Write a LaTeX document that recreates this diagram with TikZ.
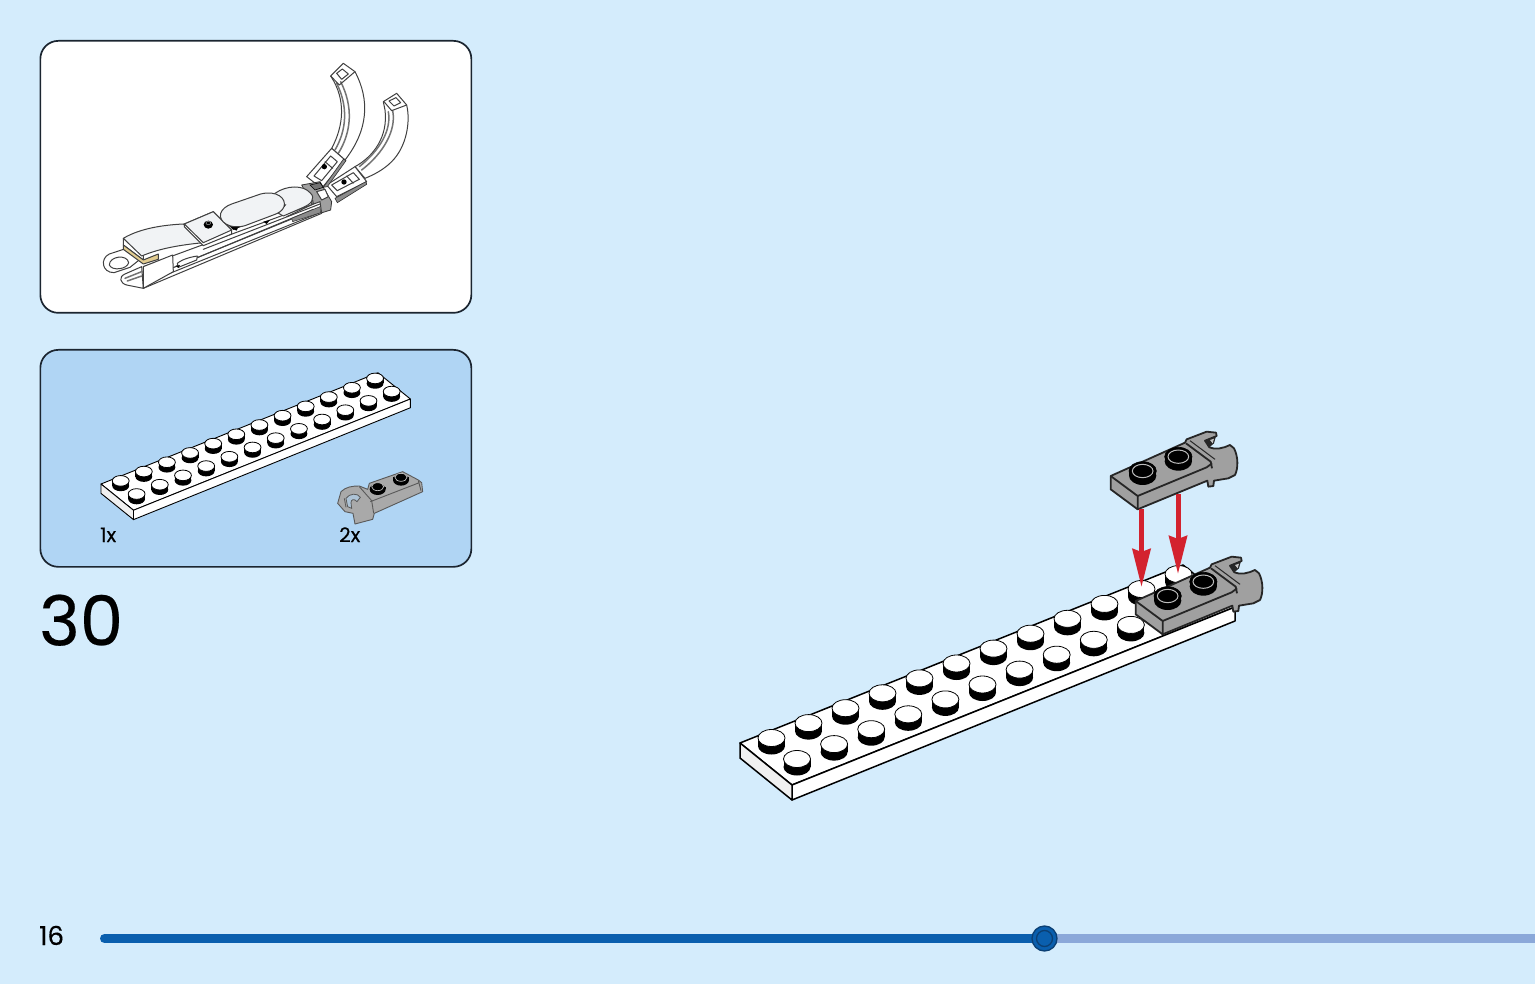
\documentclass[tikz,border=0pt]{standalone}
\usepackage{fontspec}
\setmainfont{Poppins}[FakeBold=0.35]
\usetikzlibrary{arrows.meta}
\definecolor{pagebg}{HTML}{D4ECFC}
\definecolor{partsbg}{HTML}{B0D5F4}
\definecolor{inkc}{HTML}{1B2530}
\definecolor{barblue}{HTML}{0A5FAE}
\definecolor{barpale}{HTML}{8BA8D9}
\definecolor{ringblue}{HTML}{0B3F73}
\definecolor{brick}{HTML}{A0A0A0}
\definecolor{brickpale}{HTML}{A9A9A9}
\definecolor{redarrow}{HTML}{D3222E}
\definecolor{tan}{HTML}{E2CC90}
\definecolor{tile}{HTML}{F1F3F5}
\tikzset{
  panel/.style={draw=inkc,line width=1.7pt,rounded corners=18pt,anchor=north west,inner sep=0pt},
  thinline/.style={draw=black!75,line width=1pt,line join=round,line cap=round},
  greyline/.style={draw=black!55,line width=1.5pt,line cap=round},
  redlink/.style={draw=redarrow,line width=5pt,-{Stealth[length=38pt,width=18pt,inset=3pt]}},
  label/.style={inner sep=0pt,anchor=base west,text=black},
}
% white stud: x, y, rx, ry, h
\newcommand{\wstud}[5]{%
  \fill[black] (#1,#2+#5) ellipse [x radius=#3,y radius=#4];
  \fill[black] (#1-#3,#2) rectangle (#1+#3,#2+#5);
  \path[fill=white,draw=black,line width=.8pt] (#1,#2) ellipse [x radius=#3,y radius=#4];
}
% grey-topped hollow stud: x, y
\newcommand{\gstud}[2]{%
  \fill[black] (#1,#2+14) ellipse [x radius=41,y radius=28];
  \fill[black] (#1-41,#2) rectangle (#1+41,#2+14);
  \path[fill=black,draw=black,line width=.6pt] (#1,#2) ellipse [x radius=41,y radius=28];
  \draw[brick!70!white,line width=1pt] (#1,#2) ellipse [x radius=31,y radius=20];
}
% white 2x12 plate; local origin = left corner: #1 line width, #2 last front stud
\newcommand{\whiteplate}[2]{%
  \path[fill=white,draw=black,line width=#1,line join=round] (0,0) -- (443,-178) -- (495,-136) -- (52,42) -- cycle;
  \path[fill=white,draw=black,line width=#1,line join=round] (52,42) -- (495,-136) -- (495,-122) -- (52,57) -- cycle;
  \path[fill=black!6,draw=black,line width=#1,line join=round] (0,0) -- (52,42) -- (52,57) -- (0,15) -- cycle;
  \foreach \k in {0,...,11} {\pgfmathsetmacro{\sx}{31.5+37*\k}\pgfmathsetmacro{\sy}{-5-14.9*\k}\wstud{\sx}{\sy}{13.5}{8.5}{8}}
  \foreach \k in {0,...,#2} {\pgfmathsetmacro{\sx}{57+37.1*\k}\pgfmathsetmacro{\sy}{16-14.9*\k}\wstud{\sx}{\sy}{13.5}{8.5}{8}}
}
% grey hinge plate drawn in 3x zoom units
\newcommand{\hingeplate}{%
  \path[fill=brick,draw=black!85,line width=1.8pt,line join=round]
    (62,168) -- (285,68) -- (290,58) -- (350,35) -- (378,38) -- (380,48) -- (345,62) -- (358,82) .. controls (375,90) and (400,85) .. (420,75) -- (432,85)
    .. controls (445,110) and (445,145) .. (435,165) -- (415,175) -- (372,182) -- (370,198) -- (355,200) -- (352,182) -- (143,268) -- (62,208) -- cycle;
  \draw[black!85,line width=1.8pt,line join=round] (62,168) -- (143,228) -- (143,268);
  \draw[black!85,line width=1.8pt,line join=round] (143,228) -- (350,142) -- (366,130);
  \draw[black!85,line width=1.8pt] (288,70) -- (362,125) -- (366,145);
  \draw[black!85,line width=1pt] (300,62) -- (375,118);
  \fill[black!85] (345,62) -- (378,48) -- (372,70) -- (358,82) -- cycle;
  \fill[brick!60!white] (360,60) -- (372,56) -- (368,70) -- cycle;
  \gstud{158}{153}
  \gstud{265}{110}
}
\begin{document}
\begin{tikzpicture}[x=1pt,y=-1pt]
\useasboundingbox (0,0) rectangle (1535,984);
\fill[pagebg] (0,0) rectangle (1535,984);

% panels
\node[panel,fill=white,minimum width=431pt,minimum height=272pt] (ctx) at (39.5,40) {};
\node[panel,fill=partsbg,minimum width=431pt,minimum height=217pt] (parts) at (39.5,349) {};

% ===== context model (3x zoom units)
\begin{scope}[shift={(90,50)},scale=1/3]
  % arm 2
  \path[fill=white,thinline] (880,155) -- (920,130) -- (950,165) .. controls (962,215) and (950,290) .. (905,335) .. controls (880,360) and (850,375) .. (825,385) -- (795,350) .. controls (850,320) and (895,260) .. (885,180) -- cycle;
  \draw[greyline] (908,182) .. controls (920,240) and (880,310) .. (815,360);
  \draw[greyline] (895,185) .. controls (905,240) and (870,300) .. (808,350);
  \draw[thinline] (882,155) -- (905,182) -- (950,165);
  \path[fill=white,thinline] (897,153) -- (918,143) -- (932,158) -- (912,168) -- cycle;
  \path[fill=white,thinline] (710,405) -- (795,350) -- (830,395) -- (740,440) -- cycle;
  \path[fill=white,thinline] (725,405) -- (790,368) -- (808,388) -- (742,422) -- cycle;
  \draw[thinline] (770,378) -- (790,400);
  \fill[black] (762,396) circle [radius=8];
  \path[fill=black!45,draw=black!80,line width=.6pt] (735,445) -- (828,395) -- (830,403) -- (742,458) -- cycle;
  % arm 1
  \path[fill=white,thinline] (722,78) -- (760,40) -- (795,65) .. controls (840,150) and (835,240) .. (765,330) -- (725,295) .. controls (760,230) and (770,150) .. (722,78) -- cycle;
  \draw[greyline] (740,100) .. controls (775,170) and (770,240) .. (735,300);
  \draw[greyline] (752,95) .. controls (790,170) and (785,245) .. (745,310);
  \draw[thinline] (722,78) -- (748,105) -- (795,65);
  \path[fill=white,thinline] (740,70) -- (757,57) -- (775,72) -- (755,88) -- cycle;
  \path[fill=white,thinline] (650,380) -- (725,295) -- (765,330) -- (695,415) -- cycle;
  \path[fill=white,thinline] (672,378) -- (722,318) -- (742,335) -- (695,392) -- cycle;
  \draw[thinline] (705,335) -- (728,355);
  \fill[black] (703,350) circle [radius=8];
  \path[fill=black!45,draw=black!80,line width=.6pt] (700,412) -- (760,328) -- (768,332) -- (712,410) -- cycle;
  % hub
  \path[fill=brick,draw=black!80,line width=.8pt,line join=round] (635,405) -- (690,395) -- (725,455) -- (722,480) -- (690,490) -- (605,512) -- (600,500) -- (670,470) -- cycle;
  \path[fill=white,thinline] (680,425) -- (705,418) -- (715,440) -- (695,450) -- cycle;
  \path[fill=black!55,draw=black,line width=.6pt] (660,405) -- (690,398) -- (700,412) -- (675,420) -- cycle;
  % rails
  \path[fill=white,thinline] (160,650) -- (690,455) -- (695,490) -- (160,715) -- cycle;
  \draw[thinline] (190,690) -- (690,488);
  \draw[thinline] (190,678) -- (670,478);
  \draw[thinline] (255,650) -- (610,505);
  \draw[thinline] (340,598) -- (690,462);
  \path[fill=white,thinline] (262,640) .. controls (280,625) and (310,620) .. (322,618) -- (320,630) -- (265,652) -- cycle;
  \fill[black] (258,648) -- (270,645) -- (265,654) -- cycle;
  \fill[black] (425,535) -- (445,530) -- (440,542) -- cycle;
  \fill[black] (520,515) -- (540,510) -- (530,522) -- cycle;
  \path[fill=black!45,draw=black!80,line width=.5pt] (605,505) -- (690,470) -- (692,488) -- (608,515) -- cycle;
  % ring and clip
  \path[fill=white,thinline] (110,595) -- (58,612) .. controls (30,625) and (35,668) .. (72,668) -- (120,652) -- (160,620) -- cycle;
  \path[fill=white,thinline] (58,645) .. controls (58,618) and (112,612) .. (116,638) .. controls (112,658) and (66,664) .. (58,645) -- cycle;
  \path[fill=white,thinline] (155,650) -- (105,672) .. controls (85,680) and (90,700) .. (110,705) -- (160,715) -- cycle;
  \draw[greyline] (105,685) -- (155,665);
  \draw[greyline] (112,693) -- (155,678);
  % front block
  \path[fill=white,thinline] (160,650) -- (248,615) -- (250,665) -- (160,715) -- cycle;
  \path[fill=white,thinline] (100,565) -- (100,585) -- (160,630) -- (160,615) -- cycle;
  \path[fill=tan,thinline] (100,585) -- (160,630) -- (205,612) -- (205,628) -- (160,642) -- (100,598) -- cycle;
  \path[fill=tile,thinline] (100,565) .. controls (150,535) and (220,525) .. (280,522) -- (340,578) .. controls (270,585) and (210,595) .. (155,618) -- cycle;
  % square tile
  \path[fill=white,thinline] (283,522) -- (370,485) -- (425,540) -- (425,552) -- (340,587) -- (283,530) -- cycle;
  \path[fill=tile,thinline] (283,522) -- (370,485) -- (425,540) -- (340,578) -- cycle;
  \fill[black] (355,524) ellipse [x radius=14,y radius=12];
  \draw[black!45,line width=.6pt] (355,519) ellipse [x radius=7,y radius=5];
  % rear tile
  \path[fill=tile,thinline] (555,430) .. controls (590,405) and (640,405) .. (660,428) .. controls (680,445) and (660,465) .. (640,472) -- (580,498) -- (530,470) -- cycle;
  \draw[thinline] (668,450) -- (670,462) -- (590,500);
  % oval tile
  \path[fill=black,draw=black,line width=.8pt] (395,505) -- (430,538) -- (570,485) -- (586,465) -- cycle;
  \path[fill=tile,thinline] (425,462) -- (512,432) .. controls (560,420) and (590,445) .. (582,470) .. controls (578,482) and (565,490) .. (550,495) -- (465,527) .. controls (420,540) and (385,515) .. (392,490) .. controls (396,478) and (408,468) .. (425,462) -- cycle;
\end{scope}

% ===== parts box
\begin{scope}[shift={(101,484)},scale=.625]
  \whiteplate{.9pt}{11}
\end{scope}
\begin{scope}[shift={(331,460)},scale=1/3]
  \path[fill=brickpale,draw=black!65,line width=.9pt,line join=round]
    (30,95) .. controls (45,80) and (65,78) .. (85,78) -- (110,88) -- (115,70) -- (215,35) -- (262,60) -- (272,68) -- (275,95) -- (130,160) -- (125,178) -- (72,192) -- (66,160) -- (42,155) -- (20,130) -- cycle;
  \draw[black!65,line width=.9pt] (262,62) -- (270,92);
  \draw[black!65,line width=.9pt] (118,125) -- (265,68);
  \draw[black!65,line width=.9pt] (85,80) -- (122,122) -- (128,160);
  \path[fill=brickpale!40!partsbg,draw=black!65,line width=.8pt] (45,115) .. controls (55,100) and (80,98) .. (88,112) -- (78,125) .. controls (70,115) and (60,118) .. (60,128) -- (62,145) -- (50,140) -- cycle;
  \draw[black!65,line width=.8pt] (40,115) -- (45,142);
  \foreach \sx/\sy in {140/80,210/52} {
    \fill[black] (\sx,\sy+8) ellipse [x radius=24,y radius=17];
    \fill[black] (\sx-24,\sy) rectangle (\sx+24,\sy+8);
    \path[fill=black,draw=brick!70!white,line width=.7pt] (\sx,\sy) ellipse [x radius=18,y radius=12];
  }
\end{scope}
\node[label,font=\fontsize{20}{24}\selectfont] (qa) at (100,542) {1x};
\node[label,font=\fontsize{20}{24}\selectfont] (qb) at (339,542) {2x};

% ===== step number and page number
\node[label,font=\fontsize{69}{80}\selectfont] (stepno) at (39,645.5) {30};
\node[label,font=\fontsize{26}{30}\selectfont] (pageno) at (39,945) {16};

% ===== main model
\begin{scope}[shift={(740,743)}]
  \whiteplate{1.5pt}{9}
\end{scope}
\begin{scope}[shift={(1115,545)},scale=1/3]
  \hingeplate
\end{scope}
\begin{scope}[shift={(1090,420)},scale=1/3]
  \hingeplate
\end{scope}
% arrows
\coordinate (aS) at (1141.5,509);
\coordinate (aE) at (1141.5,587);
\coordinate (bS) at (1178,494);
\coordinate (bE) at (1178,574);
\draw[redlink] (aS) -- (aE);
\draw[redlink] (bS) -- (bE);

% ===== progress bar
\coordinate (barA) at (104.5,938.5);
\coordinate (barK) at (1044.5,938.5);
\coordinate (barE) at (1535,938.5);
\draw[barpale,line width=9pt] (barK) -- (barE);
\draw[barblue,line width=9pt,line cap=round] (barA) -- (barK);
\node[circle,draw=ringblue,line width=1.3pt,fill=barblue,minimum size=25pt,inner sep=0pt] (knob) at (barK) {};
\node[circle,draw=ringblue,line width=1.3pt,minimum size=16pt,inner sep=0pt] (knobin) at (barK) {};
\end{tikzpicture}
\end{document}
